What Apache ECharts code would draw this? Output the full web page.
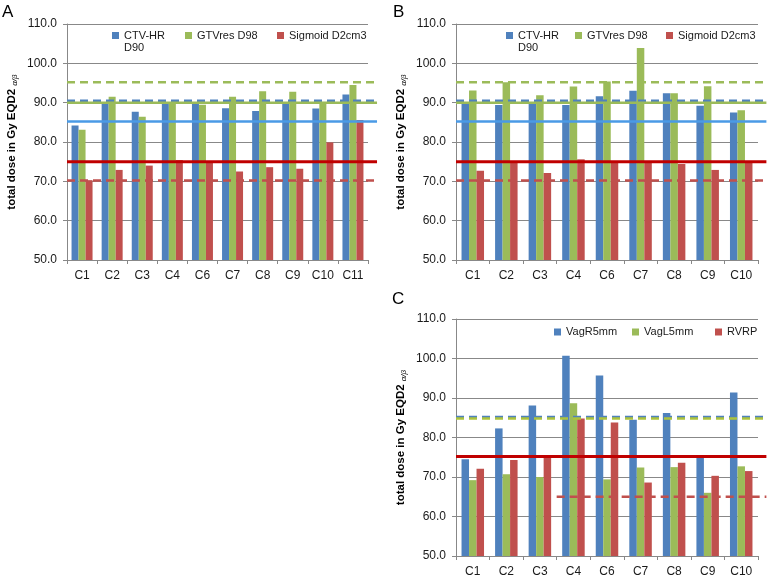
<!DOCTYPE html>
<html>
<head>
<meta charset="utf-8">
<title>Total dose EQD2 per patient</title>
<script src="https://cdn.jsdelivr.net/npm/echarts@6/dist/echarts.min.js"></script>
<style>
  html, body { margin: 0; padding: 0; background: #fff; }
  #main { width: 774px; height: 580px; }
</style>
</head>
<body>
<div id="main"></div>
<script>
// categories (patients)
var catsA = ['C1', 'C2', 'C3', 'C4', 'C6', 'C7', 'C8', 'C9', 'C10', 'C11'];
var catsB = ['C1', 'C2', 'C3', 'C4', 'C6', 'C7', 'C8', 'C9', 'C10'];
var catsC = ['C1', 'C2', 'C3', 'C4', 'C6', 'C7', 'C8', 'C9', 'C10'];

// panel A
var ctvA = [84.2, 89.7, 87.7, 89.7, 90.0, 88.6, 87.9, 89.7, 88.5, 92.1];
var gtvA = [83.1, 91.5, 86.4, 90.0, 89.5, 91.5, 92.9, 92.8, 90.0, 94.5];
var sigA = [70.3, 72.9, 74.0, 75.4, 74.9, 72.5, 73.6, 73.2, 79.9, 85.6];

// panel B
var ctvB = [89.7, 89.4, 89.7, 89.4, 91.6, 93.0, 92.4, 89.2, 87.5];
var gtvB = [93.1, 95.2, 91.9, 94.1, 95.4, 103.9, 92.4, 94.2, 88.1];
var sigB = [72.7, 75.0, 72.1, 75.6, 75.0, 75.0, 74.4, 72.9, 75.0];

// panel C
var vagR = [74.5, 82.3, 88.1, 100.7, 95.7, 84.5, 86.2, 75.2, 91.4];
var vagL = [69.2, 70.7, 70.0, 88.7, 69.4, 72.4, 72.5, 66.0, 72.7];
var rvrp = [72.1, 74.3, 75.1, 84.8, 83.8, 68.6, 73.6, 70.3, 71.5];

var namesAB = ['CTV-HR D90', 'GTVres D98', 'Sigmoid D2cm3'];
var namesC = ['VagR5mm', 'VagL5mm', 'RVRP'];

// reference levels: green dashed, blue dashed, green solid, blue solid, red solid, red dashed
var refA = [95.2, 90.5, 90.0, 85.2, 75.0, 70.2];
var refB = [95.2, 90.5, 90.0, 85.2, 75.0, 70.2];
// blue dashed, green dashed, red solid, red dashed (the last starts at C4)
var refC = [85.2, 84.8, 75.2, 65.0];
var refStartC = [0, 0, 0, 3];

var yMin = 50, yMax = 110, yStep = 10;

var FONT = '"Liberation Sans", Arial, sans-serif';
var BLUE = '#4F81BD', GREEN = '#9BBB59', RED = '#C0504D';
var AXIS = '#888888';

var styleGreenDash = { color: '#9BBB59', width: 2.5, type: [8, 5] };
var styleBlueDash = { color: '#4F81BD', width: 2.5, type: [8, 5] };
var styleGreenSolid = { color: '#9BBB59', width: 2.5, type: 'solid' };
var styleBlueSolid = { color: '#4A9AE6', width: 2.5, type: 'solid' };
var styleRedSolid = { color: '#C00000', width: 3, type: 'solid' };
var styleRedDash = { color: '#C0504D', width: 2.5, type: [8, 5] };
var styleGreenDashC = { color: '#ADC33C', width: 2.5, type: [8, 5] };

var option = {
    backgroundColor: '#fff',
    animation: false,
    textStyle: { fontFamily: FONT },
    grid: [], xAxis: [], yAxis: [], series: [], legend: [],
    graphic: [
        { type: 'text', left: 2, top: 4, style: { text: 'A', fontSize: 17, fontFamily: FONT, fill: '#000' } },
        { type: 'text', left: 393, top: 4, style: { text: 'B', fontSize: 17, fontFamily: FONT, fill: '#000' } },
        { type: 'text', left: 392, top: 291, style: { text: 'C', fontSize: 17, fontFamily: FONT, fill: '#000' } }
    ]
};

function legendLabel(name) {
    // first line sits beside the icon, second one goes under it
    return name === 'CTV-HR D90' ? ' \nCTV-HR\nD90' : name;
}

function addPanel(p) {
    var gi = option.grid.length;
    option.grid.push({ left: p.left, top: p.top, width: p.width, height: p.height });
    option.xAxis.push({
        type: 'category', gridIndex: gi, data: p.cats,
        axisLine: { lineStyle: { color: AXIS } },
        axisTick: { show: true, length: 4, lineStyle: { color: AXIS } },
        axisLabel: { fontSize: 12, color: '#1a1a1a', margin: 10 }
    });
    option.yAxis.push({
        type: 'value', gridIndex: gi, min: yMin, max: yMax, interval: yStep,
        name: '{t|total dose in Gy EQD2 }{s|α/β}',
        nameLocation: 'middle', nameGap: 48, nameRotate: 90,
        nameTextStyle: {
            rich: {
                t: { fontSize: 11.5, fontWeight: 'bold', color: '#000', lineHeight: 14, fontFamily: FONT },
                s: { fontSize: 8, fontStyle: 'italic', color: '#000', lineHeight: 14, verticalAlign: 'bottom', fontFamily: FONT }
            }
        },
        axisLine: { show: true, lineStyle: { color: AXIS } },
        axisTick: { show: true, length: 4, lineStyle: { color: AXIS } },
        axisLabel: { fontSize: 12, color: '#1a1a1a', margin: 10, formatter: function (v) { return v.toFixed(1); } },
        splitLine: { lineStyle: { color: AXIS, width: 1 } }
    });
    var colors = [BLUE, GREEN, RED];
    p.values.forEach(function (vals, k) {
        option.series.push({
            type: 'bar', name: p.names[k], xAxisIndex: gi, yAxisIndex: gi,
            data: vals, barWidth: p.barWidth, barGap: '0%', z: 2,
            itemStyle: { color: colors[k] }
        });
        var isCtv = p.names[k] === 'CTV-HR D90';
        option.legend.push({
            left: p.legendLeft[k], top: p.legendTop - (isCtv ? 18 : 6),
            padding: 0, itemWidth: 7, itemHeight: 7, icon: 'rect',
            selectedMode: false,
            textStyle: { fontSize: 11, color: '#1a1a1a', lineHeight: 12, fontFamily: FONT },
            formatter: legendLabel,
            data: [p.names[k]]
        });
    });
}

function addRefOverlay(p) {
    // overlay grid in category units, running a little past the plot's right edge
    var n = p.cats.length;
    var gi = option.grid.length;
    var end = n + p.overhang;
    option.grid.push({ left: p.left, top: p.top, width: p.width * end / n, height: p.height });
    option.xAxis.push({ type: 'value', gridIndex: gi, min: 0, max: end, show: false });
    option.yAxis.push({ type: 'value', gridIndex: gi, min: yMin, max: yMax, show: false });
    p.refs.forEach(function (v, k) {
        var start = p.refStarts ? p.refStarts[k] : 0;
        option.series.push({
            type: 'line', xAxisIndex: gi, yAxisIndex: gi, z: 5,
            data: [[start, v], [end, v]], symbol: 'none', silent: true,
            lineStyle: p.refStyles[k]
        });
    });
}

var panels = [
    {
        cats: catsA, values: [ctvA, gtvA, sigA], names: namesAB,
        left: 67, top: 24, width: 301, height: 236, barWidth: 7,
        legendLeft: [112, 185, 277], legendTop: 35.5,
        refs: refA, overhang: 0.3,
        refStyles: [styleGreenDash, styleBlueDash, styleGreenSolid, styleBlueSolid, styleRedSolid, styleRedDash]
    },
    {
        cats: catsB, values: [ctvB, gtvB, sigB], names: namesAB,
        left: 456, top: 24, width: 302, height: 236, barWidth: 7.5,
        legendLeft: [506, 575, 666], legendTop: 35.5,
        refs: refB, overhang: 0.25,
        refStyles: [styleGreenDash, styleBlueDash, styleGreenSolid, styleBlueSolid, styleRedSolid, styleRedDash]
    },
    {
        cats: catsC, values: [vagR, vagL, rvrp], names: namesC,
        left: 456, top: 319, width: 302, height: 237, barWidth: 7.5,
        legendLeft: [554, 632, 715], legendTop: 332,
        refs: refC, refStarts: refStartC, overhang: 0.25,
        refStyles: [styleBlueDash, styleGreenDashC, styleRedSolid, styleRedDash]
    }
];

panels.forEach(addPanel);
panels.forEach(addRefOverlay);

var chart = echarts.init(document.getElementById('main'), null, { renderer: 'canvas' });
chart.setOption(option);
</script>
</body>
</html>
